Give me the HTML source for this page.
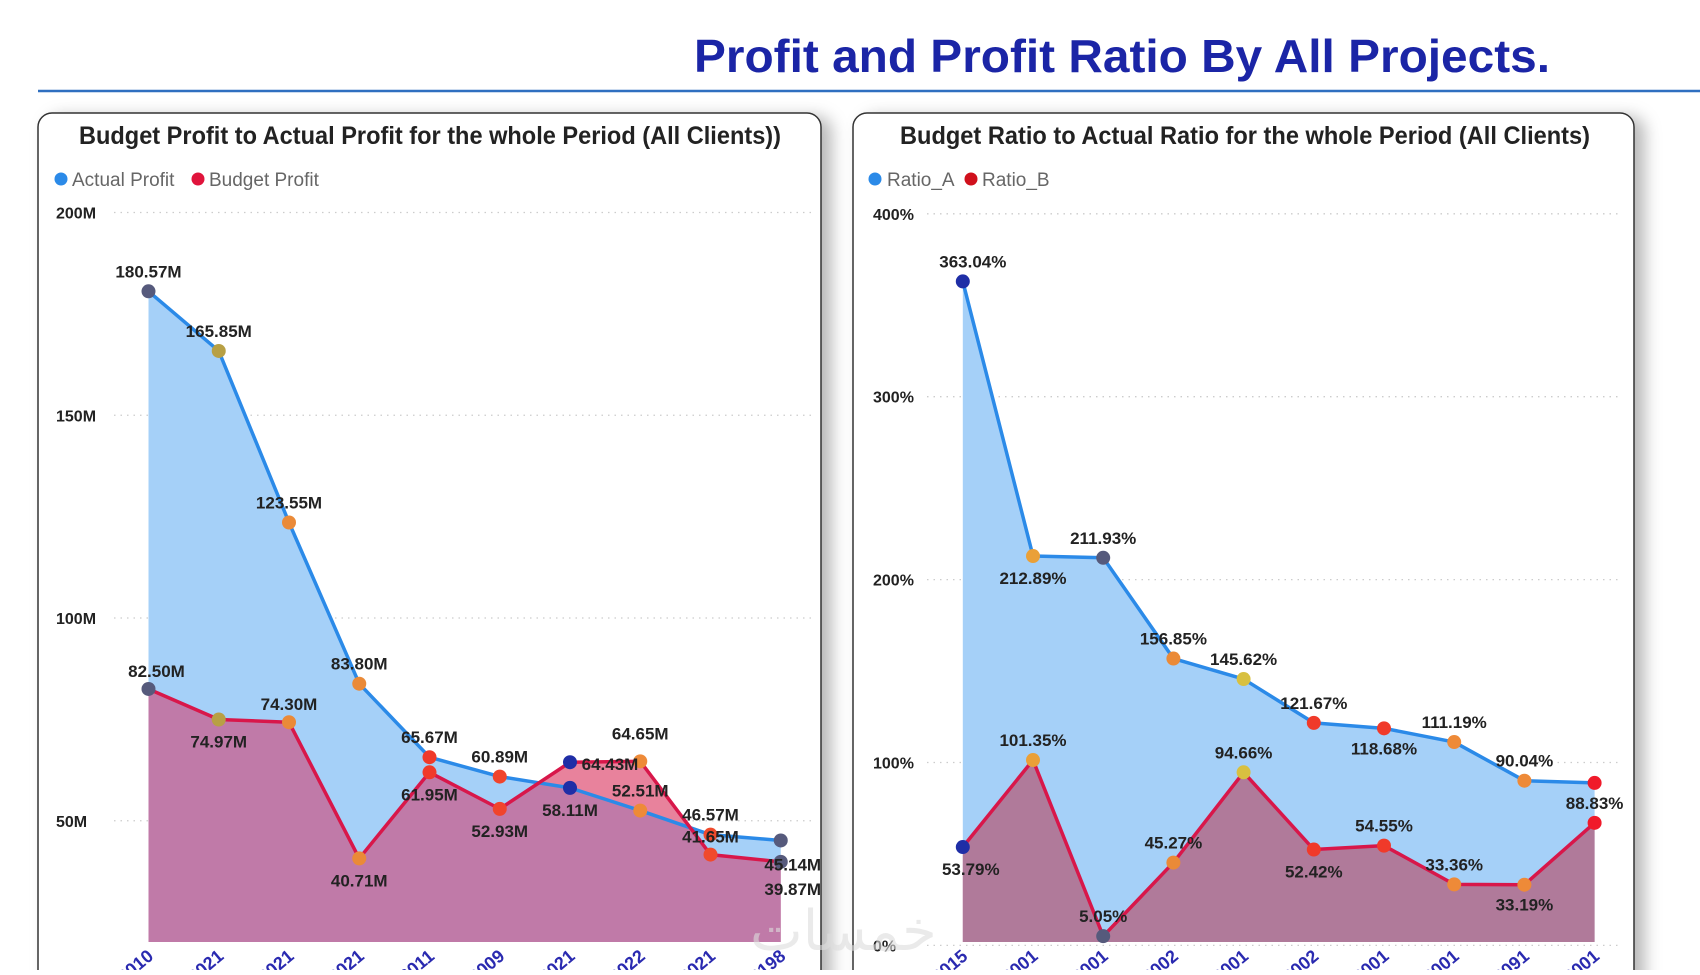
<!DOCTYPE html>
<html><head><meta charset="utf-8"><style>
html,body{margin:0;padding:0;background:#fff;}
body{width:1700px;height:970px;overflow:hidden;font-family:"Liberation Sans",sans-serif;}
</style></head><body>
<svg id="svg" width="1700" height="970" viewBox="0 0 1700 970" xmlns="http://www.w3.org/2000/svg">
<defs>
<filter id="sh" x="-5%" y="-5%" width="115%" height="115%"><feDropShadow dx="10" dy="4" stdDeviation="8" flood-color="#000" flood-opacity="0.28"/></filter>
</defs>
<text x="694" y="72" font-size="46" font-weight="bold" fill="#1b25a6" textLength="856" lengthAdjust="spacingAndGlyphs">Profit and Profit Ratio By All Projects.</text>
<line x1="38" y1="91" x2="1700" y2="91" stroke="#2f6fc0" stroke-width="2.5"/>
<rect x="38" y="113" width="783" height="900" rx="14" fill="#fff" stroke="#333" stroke-width="1.5" filter="url(#sh)"/>
<rect x="853" y="113" width="781" height="900" rx="14" fill="#fff" stroke="#333" stroke-width="1.5" filter="url(#sh)"/>
<text x="430" y="144" text-anchor="middle" font-family="'Liberation Sans Narrow','Liberation Sans',sans-serif" font-size="25" font-weight="bold" fill="#222" textLength="702" lengthAdjust="spacingAndGlyphs">Budget Profit to Actual Profit for the whole Period (All Clients))</text>
<text x="1245" y="144" text-anchor="middle" font-family="'Liberation Sans Narrow','Liberation Sans',sans-serif" font-size="25" font-weight="bold" fill="#222" textLength="690" lengthAdjust="spacingAndGlyphs">Budget Ratio to Actual Ratio for the whole Period (All Clients)</text>
<g>
<circle cx="61" cy="179" r="6.5" fill="#2b8ae8"/>
<text x="72" y="186" font-size="19" fill="#666">Actual Profit</text>
<circle cx="198" cy="179" r="6.5" fill="#e0143c"/>
<text x="209" y="186" font-size="19" fill="#666">Budget Profit</text>
</g>
<g>
<circle cx="875" cy="179" r="6.5" fill="#2b8ae8"/>
<text x="887" y="186" font-size="19" fill="#666">Ratio_A</text>
<circle cx="971" cy="179" r="6.5" fill="#d0101c"/>
<text x="982" y="186" font-size="19" fill="#666">Ratio_B</text>
</g>
<g id="left"></g>
<g id="right"></g>
<text x="750" y="950" font-size="56" fill="#ddd" opacity="0.6" font-family="'Liberation Sans','Noto Sans CJK SC',sans-serif">خمسات</text>
</svg>
<script>
const leftCategories = ["2010","2021","2021","2021","2011","2009","2021","2022","2021","2198"];
const actualProfit = [180.57,165.85,123.55,83.80,65.67,60.89,58.11,52.51,46.57,45.14];
const budgetProfit = [82.50,74.97,74.30,40.71,61.95,52.93,64.43,64.65,41.65,39.87];
const leftTicks = [50,100,150,200];
const leftTickLabels = ["50M","100M","150M","200M"];

const rightCategories = ["2015","2001","2001","2002","2001","2002","2001","2001","2091","2001"];
const ratioA = [363.04,212.89,211.93,156.85,145.62,121.67,118.68,111.19,90.04,88.83];
const ratioB = [53.79,101.35,5.05,45.27,94.66,52.42,54.55,33.36,33.19,67.0];
const rightTicks = [0,100,200,300,400];
const rightTickLabels = ["0%","100%","200%","300%","400%"];

const NS="http://www.w3.org/2000/svg";
function mk(tag,attrs,parent){const e=document.createElementNS(NS,tag);for(const k in attrs)e.setAttribute(k,attrs[k]);parent.appendChild(e);return e;}

function drawChart(cfg){
  const g=document.getElementById(cfg.id);
  const xs=i=>cfg.x0+i*cfg.step;
  const ys=v=>cfg.yZero-v*cfg.k;
  cfg.ticks.forEach((t,i)=>{
    const y=ys(t);
    const gl=mk('line',{x1:cfg.gx1,x2:cfg.gx2,y1:y,y2:y,stroke:'#ccc','stroke-width':1.3,'stroke-dasharray':'1.5 5'},g);
    
    
    const tl=mk('text',{x:cfg.tx,y:y+6,'font-size':16,'font-weight':'bold',fill:'#222'},g);
    tl.textContent=cfg.tickLabels[i];
    
    
  });
  const n=cfg.a.length;
  const ptsA=cfg.a.map((v,i)=>xs(i)+','+ys(v)).join(' ');
  const ptsB=cfg.b.map((v,i)=>xs(i)+','+ys(v)).join(' ');
  const base=cfg.base;
  const areaA=xs(0)+','+base+' '+ptsA+' '+xs(n-1)+','+base;
  const areaB=xs(0)+','+base+' '+ptsB+' '+xs(n-1)+','+base;
  const cp=mk('clipPath',{id:cfg.id+'clip'},g);
  mk('polygon',{points:areaB},cp);
  const fa=mk('polygon',{points:areaA,fill:'#a5d0f8'},g);
  
  
  const fb=mk('polygon',{points:areaB,fill:'#e8829c'},g);
  
  
  const fo=mk('polygon',{points:areaA,fill:cfg.overlap,'clip-path':'url(#'+cfg.id+'clip)'},g);
  
  
  const la=mk('polyline',{points:ptsA,fill:'none',stroke:'#2b8ae8','stroke-width':3.5,'stroke-linejoin':'round'},g);
  
  
  const lb=mk('polyline',{points:ptsB,fill:'none',stroke:'#d8174a','stroke-width':3.5,'stroke-linejoin':'round'},g);
  
  
  [[cfg.b,cfg.cb],[cfg.a,cfg.ca]].forEach(([arr,cols])=>{
    arr.forEach((v,i)=>{
      const c=mk('circle',{cx:xs(i),cy:ys(v),r:7,fill:cols[i]},g);
      
      
    });
  });
  [[cfg.a,cfg.da],[cfg.b,cfg.db]].forEach(([arr,dys])=>{
    arr.forEach((v,i)=>{
      if(dys[i]===null)return;
      const t=mk('text',{x:xs(i)+dys[i][0],y:ys(v)+dys[i][1],'font-size':17,'font-weight':'bold',fill:'#222','text-anchor':'middle'},g);
      t.textContent=cfg.fmt(v);
      
      
    });
  });
  cfg.cats.forEach((c,i)=>{
    const ax=xs(i)+6, ay=958;
    const t=mk('text',{x:ax,y:ay,'font-size':18,'font-weight':'bold',fill:'#2a2ab0','text-anchor':'end',transform:'rotate(-40 '+ax+' '+ay+')'},g);
    t.textContent=c;
    
    
  });
}
const O=[0,-14],U=[0,28];
drawChart({id:'left',x0:148.5,step:70.25,yZero:1023.5,k:4.055,base:942,gx1:114,gx2:811,tx:56,
  ticks:leftTicks,tickLabels:leftTickLabels,a:actualProfit,b:budgetProfit,cats:leftCategories,
  overlap:'#c07aa8',fmt:v=>v.toFixed(2)+'M',
  ca:['#565a7c','#b8a044','#ea8a38','#ea8a38','#f03a2a','#f0442c','#1f2ea6','#ee8a38','#f04a2c','#565a7c'],
  cb:['#565a7c','#b8a044','#ea8a38','#ea8a38','#f03a2a','#f0442c','#1f2ea6','#ee8a38','#f04a2c','#565a7c'],
  da:[O,O,O,O,O,O,U,[0,-14],[0,-14],[12,30]],
  db:[[8,-12],U,[0,-12],U,U,U,[40,8],[0,-22],[0,-12],[12,33]]});
drawChart({id:'right',x0:962.8,step:70.2,yZero:945.4,k:1.829,base:942,gx1:927,gx2:1619,tx:873,
  ticks:rightTicks,tickLabels:rightTickLabels,a:ratioA,b:ratioB,cats:rightCategories,
  overlap:'#b07a9a',fmt:v=>v.toFixed(2)+'%',
  ca:['#1f2ea6','#eaa038','#565a7c','#ea8a38','#d8c040','#f03a2a','#f03a2a','#ee8a38','#ee8a38','#f01a2a'],
  cb:['#1f2ea6','#eaa038','#565a7c','#ea8a38','#d8c040','#f03a2a','#f03a2a','#ee8a38','#ee8a38','#f01a2a'],
  da:[[10,-14],[0,28],O,O,O,O,[0,26],O,[0,-14],[0,26]],
  db:[[8,28],[0,-14],[0,-14],[0,-14],[0,-14],U,[0,-14],[0,-14],[0,26],null]});
</script>
</body></html>
